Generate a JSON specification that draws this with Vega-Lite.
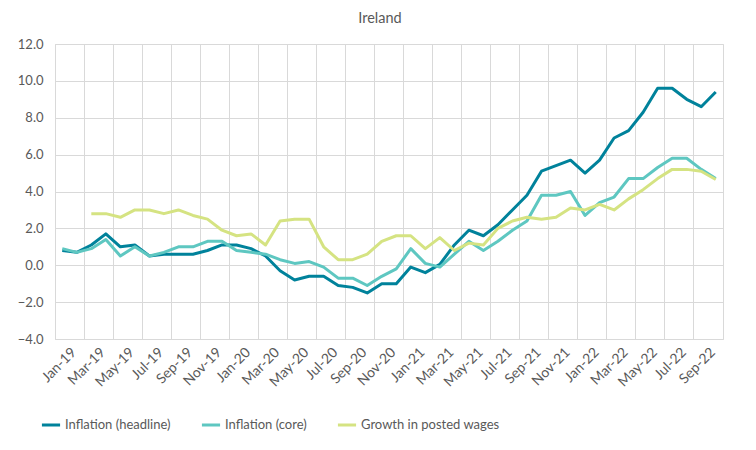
{
  "$schema": "https://vega.github.io/schema/vega-lite/v6.json",
  "autosize": {"type": "none"},
  "padding": {"left": 55, "top": 44, "right": 33, "bottom": 111},
  "width": 668,
  "height": 295,
  "title": {"text": "Ireland", "anchor": "middle", "frame": "group", "dx": -9, "offset": 12, "fontSize": 14.5, "fontWeight": "normal", "color": "#595959", "font": "Lato"},
  "config": {
    "font": "Lato",
    "view": {"stroke": "#d9d9d9", "strokeWidth": 1},
    "axis": {"labelColor": "#595959", "labelFont": "Lato", "gridColor": "#d9d9d9", "gridWidth": 1, "ticks": false, "domain": false, "title": null}
  },
  "data": {"values": [
    {"month": "Jan-19", "headline": 0.8, "core": 0.9, "wages": null},
    {"month": "Feb-19", "headline": 0.7, "core": 0.7, "wages": null},
    {"month": "Mar-19", "headline": 1.1, "core": 0.9, "wages": 2.8},
    {"month": "Apr-19", "headline": 1.7, "core": 1.4, "wages": 2.8},
    {"month": "May-19", "headline": 1.0, "core": 0.5, "wages": 2.6},
    {"month": "Jun-19", "headline": 1.1, "core": 1.0, "wages": 3.0},
    {"month": "Jul-19", "headline": 0.5, "core": 0.5, "wages": 3.0},
    {"month": "Aug-19", "headline": 0.6, "core": 0.7, "wages": 2.8},
    {"month": "Sep-19", "headline": 0.6, "core": 1.0, "wages": 3.0},
    {"month": "Oct-19", "headline": 0.6, "core": 1.0, "wages": 2.7},
    {"month": "Nov-19", "headline": 0.8, "core": 1.3, "wages": 2.5},
    {"month": "Dec-19", "headline": 1.1, "core": 1.3, "wages": 1.9},
    {"month": "Jan-20", "headline": 1.1, "core": 0.8, "wages": 1.6},
    {"month": "Feb-20", "headline": 0.9, "core": 0.7, "wages": 1.7},
    {"month": "Mar-20", "headline": 0.5, "core": 0.6, "wages": 1.1},
    {"month": "Apr-20", "headline": -0.3, "core": 0.3, "wages": 2.4},
    {"month": "May-20", "headline": -0.8, "core": 0.1, "wages": 2.5},
    {"month": "Jun-20", "headline": -0.6, "core": 0.2, "wages": 2.5},
    {"month": "Jul-20", "headline": -0.6, "core": -0.1, "wages": 1.0},
    {"month": "Aug-20", "headline": -1.1, "core": -0.7, "wages": 0.3},
    {"month": "Sep-20", "headline": -1.2, "core": -0.7, "wages": 0.3},
    {"month": "Oct-20", "headline": -1.5, "core": -1.1, "wages": 0.6},
    {"month": "Nov-20", "headline": -1.0, "core": -0.6, "wages": 1.3},
    {"month": "Dec-20", "headline": -1.0, "core": -0.2, "wages": 1.6},
    {"month": "Jan-21", "headline": -0.1, "core": 0.9, "wages": 1.6},
    {"month": "Feb-21", "headline": -0.4, "core": 0.1, "wages": 0.9},
    {"month": "Mar-21", "headline": 0.05, "core": -0.1, "wages": 1.5},
    {"month": "Apr-21", "headline": 1.1, "core": 0.6, "wages": 0.8},
    {"month": "May-21", "headline": 1.9, "core": 1.3, "wages": 1.2},
    {"month": "Jun-21", "headline": 1.6, "core": 0.8, "wages": 1.1},
    {"month": "Jul-21", "headline": 2.2, "core": 1.3, "wages": 2.0},
    {"month": "Aug-21", "headline": 3.0, "core": 1.9, "wages": 2.4},
    {"month": "Sep-21", "headline": 3.8, "core": 2.4, "wages": 2.6},
    {"month": "Oct-21", "headline": 5.1, "core": 3.8, "wages": 2.5},
    {"month": "Nov-21", "headline": 5.4, "core": 3.8, "wages": 2.6},
    {"month": "Dec-21", "headline": 5.7, "core": 4.0, "wages": 3.1},
    {"month": "Jan-22", "headline": 5.0, "core": 2.7, "wages": 3.0},
    {"month": "Feb-22", "headline": 5.7, "core": 3.4, "wages": 3.3},
    {"month": "Mar-22", "headline": 6.9, "core": 3.7, "wages": 3.0},
    {"month": "Apr-22", "headline": 7.3, "core": 4.7, "wages": 3.6},
    {"month": "May-22", "headline": 8.3, "core": 4.7, "wages": 4.1},
    {"month": "Jun-22", "headline": 9.6, "core": 5.3, "wages": 4.7},
    {"month": "Jul-22", "headline": 9.6, "core": 5.8, "wages": 5.2},
    {"month": "Aug-22", "headline": 9.0, "core": 5.8, "wages": 5.2},
    {"month": "Sep-22", "headline": 8.6, "core": 5.2, "wages": 5.1},
    {"month": "Oct-22", "headline": 9.4, "core": 4.7, "wages": 4.65}
  ]},
  "transform": [{"fold": ["headline", "core", "wages"], "as": ["series", "value"]}],
  "mark": {"type": "line", "strokeWidth": 3, "strokeJoin": "round"},
  "encoding": {
    "x": {
      "field": "month", "type": "ordinal", "sort": null, "bandPosition": 0.5,
      "scale": {"type": "band", "paddingInner": 0, "paddingOuter": 0},
      "axis": {
        "values": ["Jan-19","Mar-19","May-19","Jul-19","Sep-19","Nov-19","Jan-20","Mar-20","May-20","Jul-20","Sep-20","Nov-20","Jan-21","Mar-21","May-21","Jul-21","Sep-21","Nov-21","Jan-22","Mar-22","May-22","Jul-22","Sep-22"],
        "bandPosition": 0, "labelOffset": 7, "grid": true, "labelAngle": -45, "labelFontSize": 14, "labelPadding": 6
      }
    },
    "y": {
      "field": "value", "type": "quantitative",
      "scale": {"domain": [-4, 12], "nice": false},
      "axis": {"values": [-4, -2, 0, 2, 4, 6, 8, 10, 12], "format": ".1f", "labelFontSize": 13, "labelPadding": 12, "grid": true}
    },
    "color": {
      "field": "series", "type": "nominal",
      "scale": {"domain": ["headline", "core", "wages"], "range": ["#00829B", "#5EC7C1", "#D5E382"]},
      "legend": {
        "title": null, "orient": "none", "direction": "horizontal", "legendX": -15, "legendY": 370,
        "symbolType": "stroke", "symbolSize": 330, "symbolStrokeWidth": 3, "labelFontSize": 13, "labelColor": "#595959",
        "columnPadding": 24, "labelOffset": 3,
        "labelExpr": "datum.label == 'headline' ? 'Inflation (headline)' : datum.label == 'core' ? 'Inflation (core)' : 'Growth in posted wages'"
      }
    }
  }
}
